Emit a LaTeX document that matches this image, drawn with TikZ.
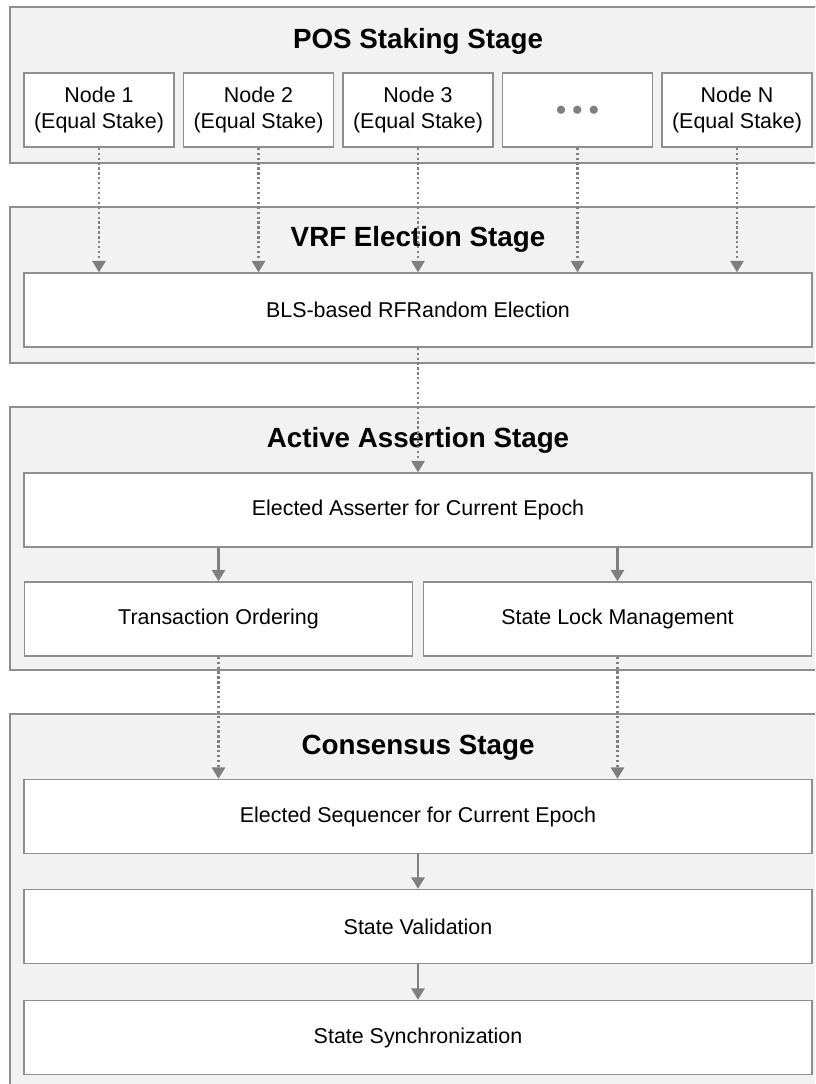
\documentclass[tikz,border=0pt]{standalone}
\usepackage{fontspec}
\setmainfont{Liberation Sans}
\usetikzlibrary{arrows.meta}

\definecolor{stagefill}{HTML}{F2F2F2}
\definecolor{edgegray}{HTML}{8E8E8E}
\definecolor{arrowgray}{HTML}{7F7F7F}

\tikzset{
  stage/.style={draw=edgegray, fill=stagefill, line width=0.8pt, minimum width=16.32cm, inner sep=0pt},
  stagetitle/.style={font=\fontsize{15.8}{19}\selectfont\bfseries},
  box/.style={draw=edgegray, fill=white, line width=0.8pt, inner sep=0pt, minimum height=1.48cm,
    align=center, font=\fontsize{12.2}{14.4}\selectfont},
  nodebox/.style={box, minimum width=3cm},
  widebox/.style={box, minimum width=15.76cm},
  halfbox/.style={box, minimum width=7.77cm},
  flow/.style={draw=arrowgray, line width=1.4pt, -{Triangle[width=7.5pt,length=6.5pt]}, arrowgray},
  dotflow/.style={flow, dash pattern=on 1.3pt off 1.5pt}
}

\begin{document}
\begin{tikzpicture}[x=0.02cm, y=-0.02cm]
    \clip (0,0) rectangle (815,1084);

    % Stages:
    \node[stage, minimum height=3.12cm] (pos) at (418,85) {};
    \node[stage, minimum height=3.12cm] (vrf) at (418,285) {};
    \node[stage, minimum height=5.26cm] (act) at (418,538.5) {};
    \node[stage, minimum height=7.72cm] (cons) at (418,907) {};

    \node[stagetitle] (postitle) at (418,41) {POS Staking Stage};
    \node[stagetitle] (vrftitle) at (418,239) {VRF Election Stage};
    \node[stagetitle] (acttitle) at (418,440) {Active Assertion Stage};
    \node[stagetitle] (constitle) at (418,748) {Consensus Stage};

    % POS staking nodes:
    \node[nodebox] (n1) at (99,110) {Node 1\\(Equal Stake)};
    \node[nodebox] (n2) at (258.5,110) {Node 2\\(Equal Stake)};
    \node[nodebox] (n3) at (418,110) {Node 3\\(Equal Stake)};
    \node[nodebox, text=arrowgray] (ndots) at (577.5,110)
        {\smash{\raisebox{-3pt}{${\bullet}\mkern5mu{\bullet}\mkern5mu{\bullet}$}}};
    \node[nodebox] (nN) at (737,110) {Node N\\(Equal Stake)};

    % Election and assertion:
    \node[widebox] (bls) at (418,310) {BLS-based RFRandom Election};
    \node[widebox] (asserter) at (418,510) {Elected Asserter for Current Epoch};
    \node[halfbox] (txorder) at (218.5,619) {Transaction Ordering};
    \node[halfbox] (statelock) at (617.5,619) {State Lock Management};

    % Consensus:
    \node[widebox] (sequencer) at (418,816.5) {Elected Sequencer for Current Epoch};
    \node[widebox] (validation) at (418,926.5) {State Validation};
    \node[widebox] (sync) at (418,1037.5) {State Synchronization};

    % Arrows:
    \foreach \n in {n1,n2,n3,ndots,nN}
        \draw[dotflow] (\n.south) -- (\n.south |- bls.north);
    \draw[dotflow] (bls.south) -- (asserter.north);
    \draw[flow] (txorder.north |- asserter.south) -- (txorder.north);
    \draw[flow] (statelock.north |- asserter.south) -- (statelock.north);
    \draw[dotflow] (txorder.south) -- (txorder.south |- sequencer.north);
    \draw[dotflow] (statelock.south) -- (statelock.south |- sequencer.north);
    \draw[flow] (sequencer) -- (validation);
    \draw[flow] (validation) -- (sync);
\end{tikzpicture}
\end{document}
